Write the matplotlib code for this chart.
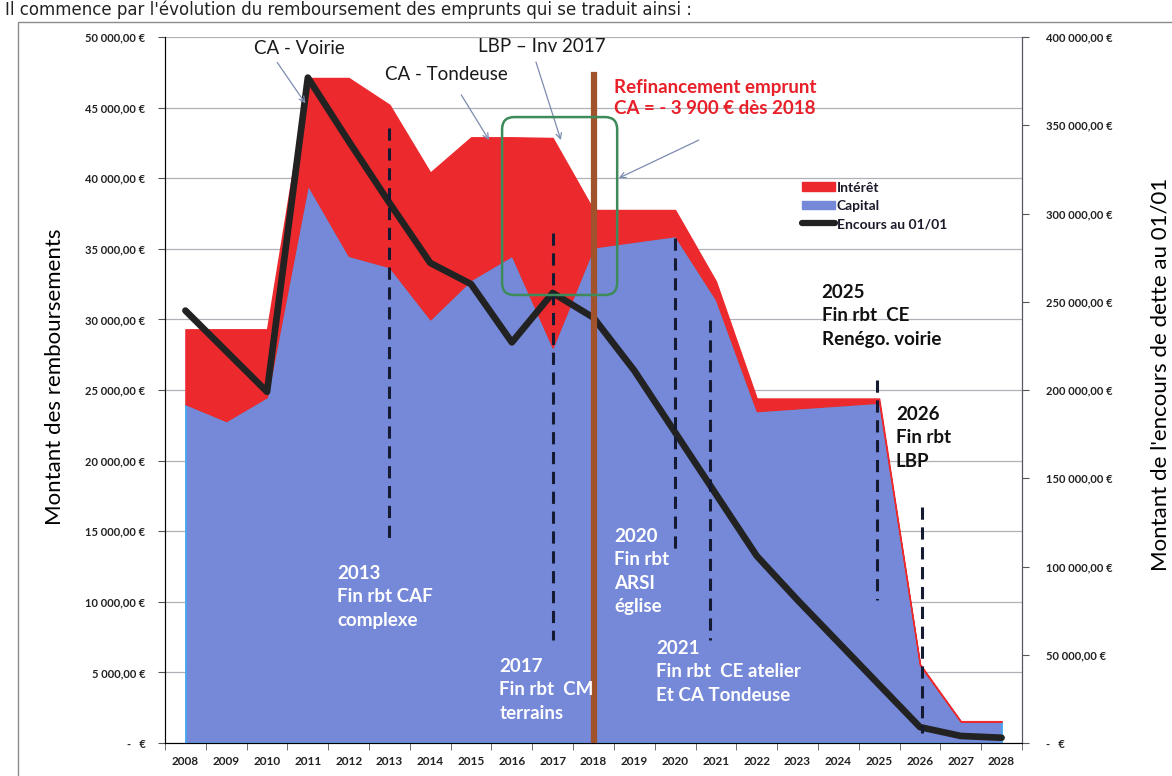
import matplotlib.pyplot as plt
from matplotlib.patches import Patch, Rectangle, FancyBboxPatch
from matplotlib.lines import Line2D
from matplotlib.ticker import FuncFormatter, MultipleLocator

plt.rcParams['font.family'] = ['Lato', 'DejaVu Sans']

# Données
years = list(range(2008, 2029))
capital = [24000, 22800, 24500, 39500, 34500, 33700, 30000, 32800, 34500, 28000,
           35100, 35500, 35900, 31400, 23500, 23700, 23900, 24100, 5500, 1500, 1500]
interets = [5300, 6500, 4800, 7600, 12600, 11500, 10400, 10100, 8400, 14850,
            2650, 2250, 1850, 1300, 900, 700, 500, 300, 100, 50, 50]
encours = [245000, 222000, 199000, 377000, 341000, 306000, 272000, 260000, 227000, 255000,
           241000, 211000, 176000, 141000, 106000, 81000, 57000, 33000, 9000, 4000, 3000]
total = [c + i for c, i in zip(capital, interets)]

RED = '#ec2a2e'
BLUE = '#7689d8'
DARK = '#222222'


def euro(v, pos):
    if v == 0:
        return '-   €'
    return f'{v:,.2f}'.replace(',', ' ').replace('.', ',') + ' €'


fig = plt.figure(figsize=(11.72, 7.76), dpi=100)
ax = fig.add_axes([0.1408, 0.0425, 0.7312, 0.9098])

# aires empilées
ax.fill_between(years, 0, capital, color=BLUE, edgecolor='#3fa9f5', lw=1.2, zorder=2)
ax.fill_between(years, capital, total, color=RED, edgecolor=RED, lw=1, zorder=2)

ax.set_xlim(2007.5, 2028.5)
ax.set_ylim(0, 50000)
ax.yaxis.set_major_locator(MultipleLocator(5000))
ax.yaxis.set_major_formatter(FuncFormatter(euro))
ax.grid(axis='y', color='#b0b0b8', lw=0.9)
ax.set_axisbelow(True)
ax.set_xticks(years)
ax.set_xticklabels([str(y) for y in years])
ax.set_xticks([y - 0.5 for y in years] + [2028.5], minor=True)
ax.tick_params(axis='x', which='major', length=0, pad=9, labelsize=8.5, labelcolor='#222')
ax.tick_params(axis='x', which='minor', length=5, color='#555', direction='out')
ax.tick_params(axis='y', length=5, pad=9, labelsize=8, labelcolor='#222', color='#555')
for lab in ax.get_xticklabels() + ax.get_yticklabels():
    lab.set_fontweight('bold')
ax.spines['top'].set_visible(False)
for s in ['left', 'right', 'bottom']:
    ax.spines[s].set_color('#555566')

# encours (axe de droite)
ax2 = ax.twinx()
ax2.plot(years, encours, color=DARK, lw=4.8, solid_capstyle='round', solid_joinstyle='round', zorder=3)
ax2.set_ylim(0, 400000)
ax2.yaxis.set_major_locator(MultipleLocator(50000))
ax2.yaxis.set_major_formatter(FuncFormatter(euro))
ax2.tick_params(axis='y', length=5, pad=12, labelsize=8, labelcolor='#222', color='#555')
for lab in ax2.get_yticklabels():
    lab.set_fontweight('bold')
ax2.spines['top'].set_visible(False)
ax2.spines['right'].set_color('#555566')

tr = ax.transData

# lignes pointillées des fins de remboursement
dashes = [(2013.0, 43550, 14380), (2017.0, 36120, 7290), (2020.0, 35760, 13310),
          (2020.85, 29950, 7290), (2024.94, 25710, 10130), (2026.04, 16710, 700)]
for x, y0, y1 in dashes:
    ax2.add_line(Line2D([x, x], [y0, y1], transform=tr, color='#151a33', lw=2.2,
                        dashes=(4, 2.5), zorder=4))

# refinancement 2018
ax2.add_line(Line2D([2018, 2018], [0, 47300], transform=tr, color='#a0522d', lw=4.5, zorder=5))
ax2.add_patch(FancyBboxPatch((2015.76, 31730), 2.82, 12600, boxstyle='round,pad=0,rounding_size=0.3',
                             mutation_aspect=2893, transform=tr, fill=False, ec='#3d8b5a', lw=1.8, zorder=6))

arrow = dict(arrowstyle='->', color='#7d8bb0', lw=0.9, shrinkA=0, shrinkB=0)
fleches = [((2010.94, 45300), (2010.25, 48200)),
           ((2015.44, 42700), (2014.76, 45900)),
           ((2017.2, 42700), (2016.59, 48230)),
           ((2018.62, 40010), (2020.58, 42700))]
for head, tail in fleches:
    ax2.annotate('', xy=head, xytext=tail, xycoords=tr, textcoords=tr, arrowprops=arrow)

titres = [(2010.79, 49220, 'CA - Voirie'),
          (2014.39, 47310, 'CA - Tondeuse'),
          (2016.74, 49360, 'LBP – Inv 2017')]
for x, y, s in titres:
    ax2.text(x, y, s, transform=tr, ha='center', va='center', fontsize=13.5, color='#1a1a1a', zorder=7)
ax2.text(2018.5, 45700, 'Refinancement emprunt\nCA = - 3 900 € dès 2018', transform=tr, ha='left',
         va='center', fontsize=13.5, fontweight='bold', color='#e8202a', linespacing=1.3, zorder=7)

notes_blanches = [(2011.72, 12600, '2013\nFin rbt CAF\ncomplexe'),
                  (2015.69, 6020, '2017\nFin rbt  CM\nterrains'),
                  (2018.50, 15230, '2020\nFin rbt\nARSI\néglise'),
                  (2019.53, 7290, '2021\nFin rbt  CE atelier\nEt CA Tondeuse')]
for x, y, s in notes_blanches:
    ax2.text(x, y, s, transform=tr, ha='left', va='top', fontsize=13.5, fontweight='bold',
             color='white', linespacing=1.45, zorder=7)
notes_noires = [(2023.59, 32500, '2025\nFin rbt  CE\nRenégo. voirie'),
                (2025.41, 23870, '2026\nFin rbt\nLBP')]
for x, y, s in notes_noires:
    ax2.text(x, y, s, transform=tr, ha='left', va='top', fontsize=13.5, fontweight='bold',
             color='#111111', linespacing=1.45, zorder=7)

handles = [Patch(color=RED), Patch(color=BLUE), Line2D([], [], color=DARK, lw=4.5, solid_capstyle='round')]
leg = ax2.legend(handles, ['Intérêt', 'Capital', 'Encours au 01/01'], loc='upper left',
                 bbox_to_anchor=(0.735, 0.805), frameon=False, fontsize=10, handlelength=2.4,
                 handleheight=0.6, handletextpad=0.1, labelspacing=0.45, borderpad=0)
for t in leg.get_texts():
    t.set_fontweight('bold')
    t.set_color('#1a1a2a')

# titres des axes
fig.text(0.047, 0.515, 'Montant des remboursements', rotation=90, ha='center', va='center', fontsize=16)
fig.text(0.99, 0.517, "Montant de l'encours de dette au 01/01", rotation=90, ha='center', va='center',
         fontsize=16)

# cadre et texte du document scanné
fig.add_artist(Rectangle((0.0154, -0.1), 1.2, 0.1 + 0.9716, transform=fig.transFigure, fill=False,
                         ec='#8a8a8a', lw=1))
fig.text(0.004, 0.999, "Il commence par l'évolution du remboursement des emprunts qui se traduit ainsi :",
         ha='left', va='top', fontsize=12, family=['DejaVu Sans'], color='#222')

fig.savefig('out.png', dpi=100)
